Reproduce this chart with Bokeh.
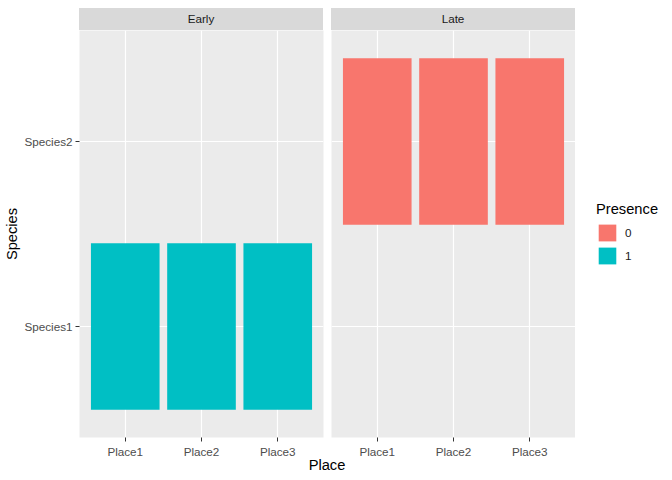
from bokeh.plotting import figure
from bokeh.models import FactorRange, Range1d, Legend, LegendItem, Div, ColumnDataSource
from bokeh.layouts import row, column
from bokeh.embed import file_html
from bokeh.resources import INLINE

places = ["Place1", "Place2", "Place3"]
species = ["Species1", "Species2"]
periods = ["Early", "Late"]
# tiles per facet
early_place = ["Place1", "Place2", "Place3"]
early_species = ["Species1", "Species1", "Species1"]
early_presence = ["1", "1", "1"]
late_place = ["Place1", "Place2", "Place3"]
late_species = ["Species2", "Species2", "Species2"]
late_presence = ["0", "0", "0"]
presence_levels = ["0", "1"]
presence_colors = {"0": "#F8766D", "1": "#00BFC4"}

FONT = "Liberation Sans"
LEFT = 79

def make_panel(xs, ys, pres, left, right, show_y):
    xr = FactorRange(factors=places, range_padding=0.1, range_padding_units="absolute")
    yr = FactorRange(factors=species, range_padding=0.1, range_padding_units="absolute")
    p = figure(x_range=xr, y_range=yr, frame_width=244, frame_height=407,
               output_backend="svg", toolbar_location=None,
               min_border_left=left, min_border_right=right,
               min_border_top=0, min_border_bottom=0)
    p.background_fill_color = "#EBEBEB"
    p.border_fill_color = "white"
    p.outline_line_color = None
    src = ColumnDataSource(dict(x=xs, y=ys, c=[presence_colors[v] for v in pres], pr=pres))
    r = p.rect(x="x", y="y", width=0.9, height=0.9, source=src, fill_color="c", line_color=None)
    p.xgrid.grid_line_color = "white"
    p.ygrid.grid_line_color = "white"
    p.xgrid.grid_line_width = 1.2
    p.ygrid.grid_line_width = 1.2
    for ax in p.axis:
        ax.axis_line_color = None
        ax.major_tick_line_color = "#333333"
        ax.major_tick_in = 0
        ax.major_tick_out = 4
        ax.major_label_text_font = FONT
        ax.major_label_text_font_size = "11.7px"
        ax.major_label_text_color = "#4D4D4D"
        ax.major_label_standoff = 3
    p.yaxis.axis_label = "Species" if show_y else None
    p.yaxis.axis_label_text_font = FONT
    p.yaxis.axis_label_text_font_size = "14.7px"
    p.yaxis.axis_label_text_font_style = "normal"
    p.yaxis.axis_label_text_color = "black"
    p.yaxis.axis_label_standoff = 1
    if not show_y:
        p.yaxis.visible = False
    return p, r

def strip(text, left, right):
    return Div(text=text, width=244, height=22, margin=(8, right, 0, left),
               styles={"background-color": "#D9D9D9", "text-align": "center",
                       "font-family": FONT, "font-size": "11.7px", "color": "#1A1A1A",
                       "line-height": "22px"})

p1, r1 = make_panel(early_place, early_species, early_presence, LEFT, 4, True)
p2, r2 = make_panel(late_place, late_species, late_presence, 4, 0, False)

# legend panel
p3 = figure(width=89, height=437, x_range=Range1d(0, 1), y_range=Range1d(0, 1),
            x_axis_type=None, y_axis_type=None, output_backend="svg", toolbar_location=None,
            min_border=0)
p3.outline_line_color = None
p3.grid.visible = False
p3.background_fill_color = "white"
items = []
for lv in presence_levels:
    lr = p3.rect(x=[-1], y=[-1], width=0.01, height=0.01,
                 fill_color=presence_colors[lv], line_color=None)
    items.append(LegendItem(label=lv, renderers=[lr]))
legend = Legend(items=items, title="Presence", location=(21, 171),
                title_text_font=FONT, title_text_font_size="14.7px", title_text_font_style="normal",
                title_text_color="black",
                label_text_font=FONT, label_text_font_size="11.7px", label_text_color="#1A1A1A",
                glyph_width=22, glyph_height=21, label_height=21, spacing=2,
                border_line_color=None, background_fill_alpha=0,
                padding=0, margin=0, title_standoff=5, label_standoff=7)
p3.add_layout(legend, "center")

xlabel = Div(text='<div style="position:relative; top:-3px">Place</div>', width=496, height=15,
             margin=(0, 0, 0, LEFT),
             styles={"text-align": "center", "font-family": FONT, "font-size": "14.7px",
                     "color": "black", "line-height": "16px"})

col1 = column(strip("Early", LEFT, 4), p1, spacing=0)
col2 = column(strip("Late", 4, 0), p2, spacing=0)
layout = column(row(col1, col2, p3, spacing=0), xlabel, spacing=0)

open("out.html", "w").write(file_html(layout, INLINE))
